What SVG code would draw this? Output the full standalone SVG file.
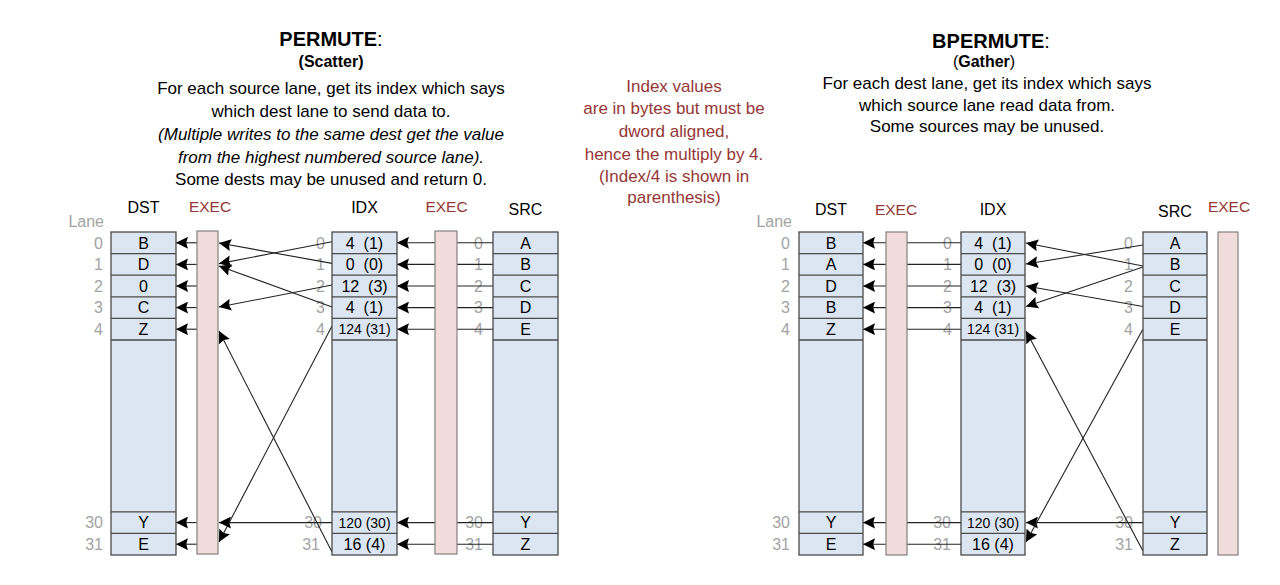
<svg xmlns="http://www.w3.org/2000/svg" width="1280" height="585" viewBox="0 0 1280 585">
<defs>
<style>
text{font-family:"Liberation Sans",Arial,sans-serif;}
.ttl{font-size:20px;font-weight:bold;text-anchor:middle;fill:#000;}
.sub{font-size:16px;font-weight:bold;text-anchor:middle;fill:#000;}
.body{font-size:17px;text-anchor:middle;fill:#000;}
.ital{font-style:italic;}
.note{font-size:17px;text-anchor:middle;fill:#953735;}
.hdr{font-size:16px;text-anchor:middle;fill:#000;}
.hdrx{font-size:15.5px;text-anchor:middle;fill:#953735;}
.lane{font-size:16px;text-anchor:end;fill:#a3a3a3;}
.cell{font-size:16px;text-anchor:middle;fill:#000;white-space:pre;}
.cells{font-size:14px;text-anchor:middle;fill:#000;white-space:pre;}
.col{fill:#dce6f2;stroke:#4a4a4a;stroke-width:1.3;}
.div{stroke:#4a4a4a;stroke-width:1.3;}
.exec{fill:#f2dcdb;stroke:#808080;stroke-width:1.2;}
.cn{fill:none;stroke:#222;stroke-width:1.1;marker-end:url(#ah);}
</style>
<marker id="ah" viewBox="0 0 10 10" refX="10" refY="5" markerWidth="12" markerHeight="12" markerUnits="userSpaceOnUse" orient="auto">
<path d="M0,0 L10,5 L0,10 L1.5,5 z" fill="#000"/>
</marker>
</defs>
<rect width="1280" height="585" fill="#fff"/>

<!-- Titles -->
<g id="title-permute">
<text class="ttl" x="331" y="46">PERMUTE<tspan font-weight="normal">:</tspan></text>
<text class="sub" x="331" y="67">(Scatter)</text>
<text class="body" x="331" y="94">For each source lane, get its index which says</text>
<text class="body" x="331" y="116.5">which dest lane to send data to.</text>
<text class="body ital" x="331" y="140">(Multiple writes to the same dest get the value</text>
<text class="body ital" x="331" y="163">from the highest numbered source lane).</text>
<text class="body" x="331" y="185">Some dests may be unused and return 0.</text>
</g>
<g id="note-index">
<text class="note" x="674" y="92">Index values</text>
<text class="note" x="674" y="114">are in bytes but must be</text>
<text class="note" x="674" y="136.5">dword aligned,</text>
<text class="note" x="674" y="159.5">hence the multiply by 4.</text>
<text class="note" x="674" y="181.5">(Index/4 is shown in</text>
<text class="note" x="674" y="203">parenthesis)</text>
</g>
<g id="title-bpermute">
<text class="ttl" x="991" y="48">BPERMUTE<tspan font-weight="normal">:</tspan></text>
<text class="sub" x="984" y="67" font-size="15"><tspan font-weight="normal">(</tspan>Gather<tspan font-weight="normal">)</tspan></text>
<text class="body" x="987" y="88.5">For each dest lane, get its index which says</text>
<text class="body" x="987" y="110.5">which source lane read data from.</text>
<text class="body" x="987" y="132">Some sources may be unused.</text>
</g>

<!-- Lane labels -->
<g id="lanes-left">
<text class="lane" x="104" y="227">Lane</text>
<text class="lane" x="103" y="248.5">0</text><text class="lane" x="103" y="270.1">1</text><text class="lane" x="103" y="291.7">2</text><text class="lane" x="103" y="313.3">3</text><text class="lane" x="103" y="334.9">4</text><text class="lane" x="103" y="528.3">30</text><text class="lane" x="103" y="549.9">31</text>
<text class="lane" x="325" y="248.5">0</text><text class="lane" x="325" y="270.1">1</text><text class="lane" x="325" y="291.7">2</text><text class="lane" x="325" y="313.3">3</text><text class="lane" x="325" y="334.9">4</text><text class="lane" x="322" y="528.3">30</text><text class="lane" x="320" y="549.9">31</text>
<text class="lane" x="483" y="248.5">0</text><text class="lane" x="483" y="270.1">1</text><text class="lane" x="483" y="291.7">2</text><text class="lane" x="483" y="313.3">3</text><text class="lane" x="483" y="334.9">4</text><text class="lane" x="483" y="528.3">30</text><text class="lane" x="483" y="549.9">31</text>
</g>
<g id="lanes-right">
<text class="lane" x="792" y="227">Lane</text>
<text class="lane" x="790" y="248.5">0</text><text class="lane" x="790" y="270.1">1</text><text class="lane" x="790" y="291.7">2</text><text class="lane" x="790" y="313.3">3</text><text class="lane" x="790" y="334.9">4</text><text class="lane" x="790" y="528.3">30</text><text class="lane" x="790" y="549.9">31</text>
<text class="lane" x="952" y="248.5">0</text><text class="lane" x="952" y="270.1">1</text><text class="lane" x="952" y="291.7">2</text><text class="lane" x="952" y="313.3">3</text><text class="lane" x="952" y="334.9">4</text><text class="lane" x="951" y="528.3">30</text><text class="lane" x="951" y="549.9">31</text>
<text class="lane" x="1133" y="248.5">0</text><text class="lane" x="1133" y="270.1">1</text><text class="lane" x="1133" y="291.7">2</text><text class="lane" x="1133" y="313.3">3</text><text class="lane" x="1133" y="334.9">4</text><text class="lane" x="1133" y="528.3">30</text><text class="lane" x="1133" y="549.9">31</text>
</g>

<!-- Connectors -->
<g id="connectors">
<path class="cn" d="M197,242.8 L176,242.8"/>
<path class="cn" d="M197,264.4 L176,264.4"/>
<path class="cn" d="M197,286 L176,286"/>
<path class="cn" d="M197,307.6 L176,307.6"/>
<path class="cn" d="M197,329.2 L176,329.2"/>
<path class="cn" d="M197,522.6 L176,522.6"/>
<path class="cn" d="M197,544.2 L176,544.2"/>
<path class="cn" d="M332,241.8 L219,263.6"/>
<path class="cn" d="M332,263.4 L219,243"/>
<path class="cn" d="M332,285 L219,307"/>
<path class="cn" d="M332,307 L219,266"/>
<path class="cn" d="M332,326 L219,542"/>
<path class="cn" d="M332,522.6 L219,522.6"/>
<path class="cn" d="M332,552 L219,331"/>
<path class="cn" d="M493,242.8 L397,242.8"/>
<path class="cn" d="M493,264.4 L397,264.4"/>
<path class="cn" d="M493,286 L397,286"/>
<path class="cn" d="M493,307.6 L397,307.6"/>
<path class="cn" d="M493,329.2 L397,329.2"/>
<path class="cn" d="M493,522.6 L397,522.6"/>
<path class="cn" d="M493,544.2 L397,544.2"/>
<path class="cn" d="M961,242.8 L863,242.8"/>
<path class="cn" d="M961,264.4 L863,264.4"/>
<path class="cn" d="M961,286 L863,286"/>
<path class="cn" d="M961,307.6 L863,307.6"/>
<path class="cn" d="M961,329.2 L863,329.2"/>
<path class="cn" d="M961,522.6 L863,522.6"/>
<path class="cn" d="M961,544.2 L863,544.2"/>
<path class="cn" d="M1143,266 L1026,243"/>
<path class="cn" d="M1143,245 L1026,264"/>
<path class="cn" d="M1143,306.5 L1026,286"/>
<path class="cn" d="M1143,267 L1026,306.5"/>
<path class="cn" d="M1143,551 L1026,331"/>
<path class="cn" d="M1143,522.6 L1026,522.6"/>
<path class="cn" d="M1143,329 L1026,542"/>
</g>

<!-- Headers -->
<g id="headers">
<text class="hdr" x="143.5" y="213">DST</text>
<text class="hdrx" x="210" y="212">EXEC</text>
<text class="hdr" x="364.5" y="213">IDX</text>
<text class="hdrx" x="446.5" y="212">EXEC</text>
<text class="hdr" x="525.5" y="215">SRC</text>
<text class="hdr" x="831" y="215">DST</text>
<text class="hdrx" x="896" y="215">EXEC</text>
<text class="hdr" x="993" y="215">IDX</text>
<text class="hdr" x="1175" y="217">SRC</text>
<text class="hdrx" x="1229" y="212">EXEC</text>
</g>

<!-- Left nodes -->
<g id="permute-dst">
<rect class="col" x="111" y="232" width="65" height="323"/>
<path class="div" d="M111,253.6H176M111,275.2H176M111,296.8H176M111,318.4H176M111,340H176M111,511.8H176M111,533.4H176"/>
<text class="cell" x="143.5" y="248.5">B</text><text class="cell" x="143.5" y="270.1">D</text><text class="cell" x="143.5" y="291.7">0</text><text class="cell" x="143.5" y="313.3">C</text><text class="cell" x="143.5" y="334.9">Z</text><text class="cell" x="143.5" y="528.3">Y</text><text class="cell" x="143.5" y="549.9">E</text>
</g>
<g id="permute-exec-dst"><rect class="exec" x="197" y="231" width="21" height="323"/></g>
<g id="permute-idx">
<rect class="col" x="332" y="232" width="65" height="323"/>
<path class="div" d="M332,253.6H397M332,275.2H397M332,296.8H397M332,318.4H397M332,340H397M332,511.8H397M332,533.4H397"/>
<text class="cell" x="364.5" y="248.5" xml:space="preserve">4  (1)</text><text class="cell" x="364.5" y="270.1" xml:space="preserve">0  (0)</text><text class="cell" x="364.5" y="291.7" xml:space="preserve">12  (3)</text><text class="cell" x="364.5" y="313.3" xml:space="preserve">4  (1)</text><text class="cells" x="364.5" y="334.2">124 (31)</text><text class="cells" x="364.5" y="527.6">120 (30)</text><text class="cell" x="364.5" y="549.9">16 (4)</text>
</g>
<g id="permute-exec-src"><rect class="exec" x="435" y="231" width="22" height="323"/></g>
<g id="permute-src">
<rect class="col" x="493" y="232" width="65" height="323"/>
<path class="div" d="M493,253.6H558M493,275.2H558M493,296.8H558M493,318.4H558M493,340H558M493,511.8H558M493,533.4H558"/>
<text class="cell" x="525.5" y="248.5">A</text><text class="cell" x="525.5" y="270.1">B</text><text class="cell" x="525.5" y="291.7">C</text><text class="cell" x="525.5" y="313.3">D</text><text class="cell" x="525.5" y="334.9">E</text><text class="cell" x="525.5" y="528.3">Y</text><text class="cell" x="525.5" y="549.9">Z</text>
</g>

<!-- Right nodes -->
<g id="bpermute-dst">
<rect class="col" x="799" y="232" width="64" height="323"/>
<path class="div" d="M799,253.6H863M799,275.2H863M799,296.8H863M799,318.4H863M799,340H863M799,511.8H863M799,533.4H863"/>
<text class="cell" x="831" y="248.5">B</text><text class="cell" x="831" y="270.1">A</text><text class="cell" x="831" y="291.7">D</text><text class="cell" x="831" y="313.3">B</text><text class="cell" x="831" y="334.9">Z</text><text class="cell" x="831" y="528.3">Y</text><text class="cell" x="831" y="549.9">E</text>
</g>
<g id="bpermute-exec-dst"><rect class="exec" x="886" y="232" width="21" height="323"/></g>
<g id="bpermute-idx">
<rect class="col" x="961" y="232" width="64" height="323"/>
<path class="div" d="M961,253.6H1025M961,275.2H1025M961,296.8H1025M961,318.4H1025M961,340H1025M961,511.8H1025M961,533.4H1025"/>
<text class="cell" x="993" y="248.5" xml:space="preserve">4  (1)</text><text class="cell" x="993" y="270.1" xml:space="preserve">0  (0)</text><text class="cell" x="993" y="291.7" xml:space="preserve">12  (3)</text><text class="cell" x="993" y="313.3" xml:space="preserve">4  (1)</text><text class="cells" x="993" y="334.2">124 (31)</text><text class="cells" x="993" y="527.6">120 (30)</text><text class="cell" x="993" y="549.9">16 (4)</text>
</g>
<g id="bpermute-src">
<rect class="col" x="1143" y="232" width="64" height="323"/>
<path class="div" d="M1143,253.6H1207M1143,275.2H1207M1143,296.8H1207M1143,318.4H1207M1143,340H1207M1143,511.8H1207M1143,533.4H1207"/>
<text class="cell" x="1175" y="248.5">A</text><text class="cell" x="1175" y="270.1">B</text><text class="cell" x="1175" y="291.7">C</text><text class="cell" x="1175" y="313.3">D</text><text class="cell" x="1175" y="334.9">E</text><text class="cell" x="1175" y="528.3">Y</text><text class="cell" x="1175" y="549.9">Z</text>
</g>
<g id="bpermute-exec-src"><rect class="exec" x="1218" y="232" width="20" height="323"/></g>
</svg>
